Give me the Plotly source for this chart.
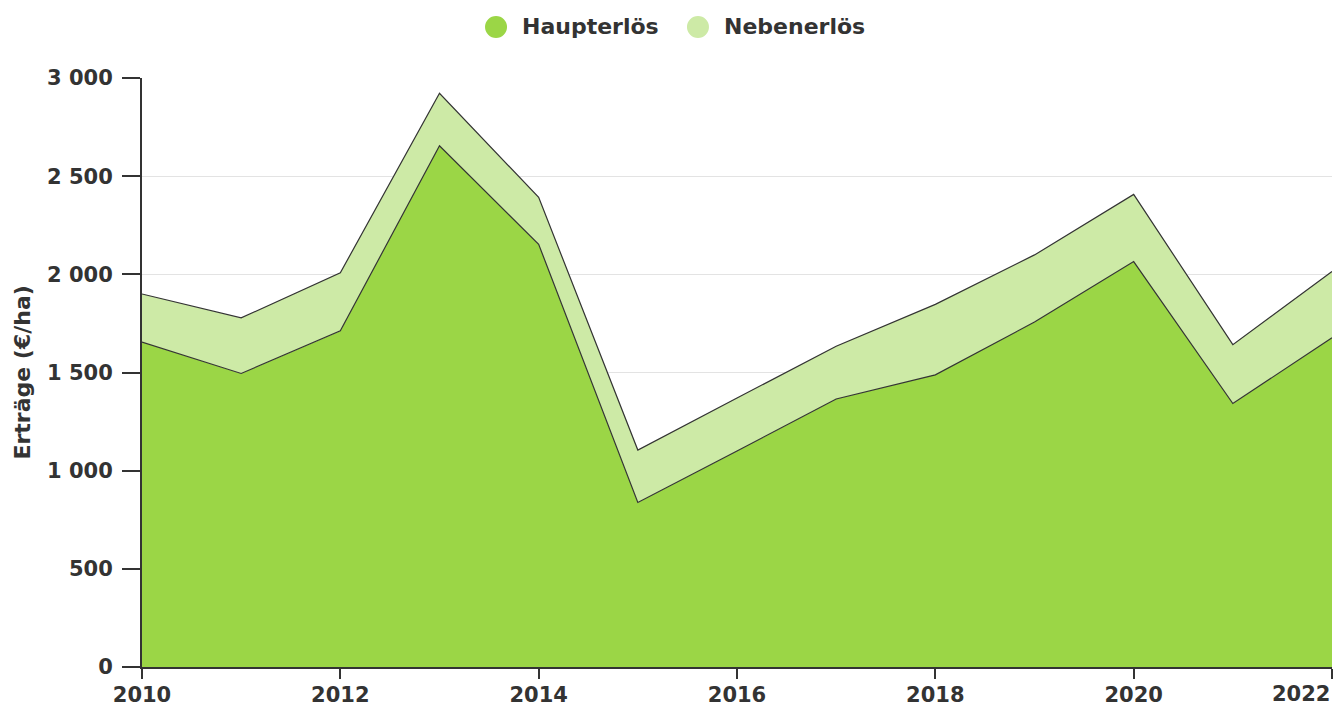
import plotly.graph_objects as go

YEARS = list(range(2010, 2023))
HAUPTERLOES = [1655, 1495, 1712, 2655, 2153, 838, 1100, 1365, 1488, 1757, 2065, 1342, 1677]
NEBENERLOES = [245, 283, 296, 267, 239, 267, 270, 269, 359, 342, 342, 300, 338]

Y_TICKS = [0, 500, 1000, 1500, 2000, 2500, 3000]
Y_TICK_TEXT = ["0", "500", "1 000", "1 500", "2 000", "2 500", "3 000"]
X_TICKS = list(range(2010, 2023, 2))

GREEN = "#9bd646"
LIGHT_GREEN = "#cdeaa6"
INK = "#333333"
TICK_FONT = dict(family="DejaVu Sans", size=21, color=INK, weight="bold")
BIG_FONT = dict(family="DejaVu Sans", size=22, color=INK, weight="bold")

fig = go.Figure()
fig.add_scatter(
    x=YEARS, y=HAUPTERLOES, stackgroup="one", mode="lines", name="Haupterlös",
    line=dict(color=INK, width=1.2), fillcolor=GREEN, showlegend=False,
)
fig.add_scatter(
    x=YEARS, y=NEBENERLOES, stackgroup="one", mode="lines", name="Nebenerlös",
    line=dict(color=INK, width=1.2), fillcolor=LIGHT_GREEN, showlegend=False,
)

# hand-made legend: plotly caps legend marker size, the reference uses big dots
legend_items = [("Haupterlös", GREEN, 0.2975), ("Nebenerlös", LIGHT_GREEN, 0.4672)]
legend_y = 1.0866
for name, color, cx in legend_items:
    fig.add_shape(
        type="circle", xref="paper", yref="paper",
        xsizemode="pixel", ysizemode="pixel", xanchor=cx, yanchor=legend_y,
        x0=-11, x1=11, y0=-11, y1=11,
        fillcolor=color, line=dict(width=0),
    )
    fig.add_annotation(
        x=cx + 0.0202, y=legend_y, xref="paper", yref="paper", text=name,
        showarrow=False, xanchor="left", yanchor="middle", font=BIG_FONT,
    )

# y axis title placed by hand (no automargin, fixed position)
fig.add_annotation(
    x=-0.1008, y=0.5, xref="paper", yref="paper", text="Erträge (€/ha)",
    showarrow=False, textangle=-90, xanchor="center", yanchor="middle",
    font=BIG_FONT,
)

# last tick label would be cut off at the right edge, so place it by hand
x_tick_text = [str(y) for y in X_TICKS[:-1]] + [""]
fig.add_annotation(
    x=1, y=0, xref="paper", yref="paper", text=str(X_TICKS[-1]),
    showarrow=False, xanchor="right", yanchor="top", yshift=-13,
    font=TICK_FONT,
)

fig.update_layout(
    width=1334, height=705,
    margin=dict(l=142, r=2, t=78, b=38),
    paper_bgcolor="white", plot_bgcolor="white",
    font=TICK_FONT,
    showlegend=False,
)
fig.update_xaxes(
    range=[2010, 2022], tickvals=X_TICKS, ticktext=x_tick_text, automargin=False,
    showline=True, linecolor=INK, linewidth=2, showgrid=False, zeroline=False,
    ticks="outside", ticklen=10, tickwidth=2, tickcolor=INK, ticklabelstandoff=-2,
)
fig.update_yaxes(
    range=[0, 3000], tickvals=Y_TICKS, ticktext=Y_TICK_TEXT, automargin=False,
    showline=True, linecolor=INK, linewidth=2, zeroline=False,
    showgrid=True, gridcolor="#e3e3e3", gridwidth=1,
    ticks="outside", ticklen=18, tickwidth=2, tickcolor=INK, ticklabelstandoff=5,
)

fig.write_html(
    "out.html",
    config={"displayModeBar": False},
    post_script="document.body.style.margin='0';document.body.style.overflow='hidden';",
)
